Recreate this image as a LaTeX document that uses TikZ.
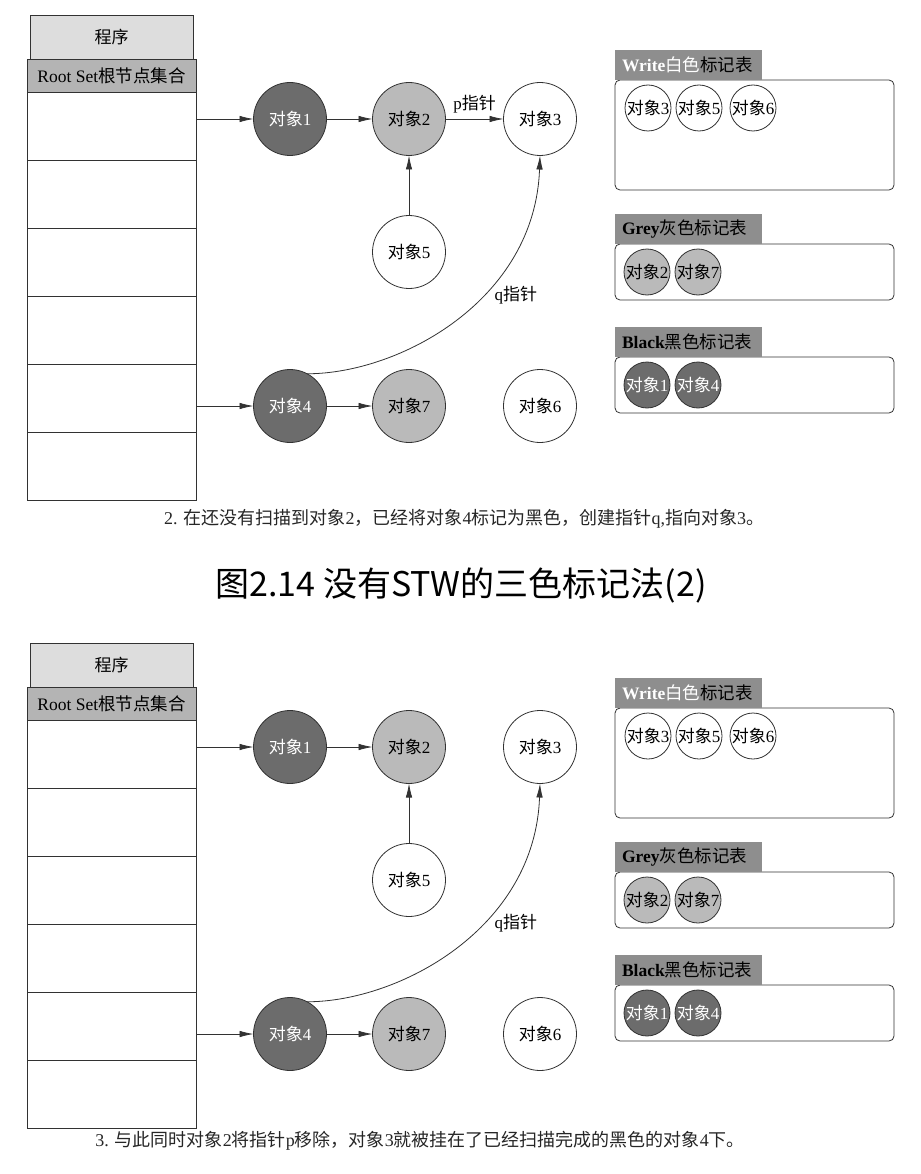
\documentclass[tikz,border=0pt]{standalone}
\usepackage{fontspec}
\setmainfont{Liberation Serif}
\newfontfamily\zhfont{Noto Sans CJK SC}
\newcommand\zh[1]{{\zhfont #1}}
\newcommand\objname[1]{\zh{对象}#1}
\newcommand\minilabel[1]{\makebox[0pt]{\zh{对象}#1}}
\usetikzlibrary{positioning}
\usetikzlibrary{arrows.meta}
\definecolor{progfill}{RGB}{221,221,221}
\definecolor{rootfill}{RGB}{180,180,180}
\definecolor{headfill}{RGB}{142,142,142}
\definecolor{objdark}{RGB}{108,108,108}
\definecolor{objgrey}{RGB}{186,186,186}
\definecolor{linegrey}{RGB}{50,50,50}

\begin{document}
\begin{tikzpicture}[
            x=1pt, y=-1pt,
            every node/.style={outer sep=0pt},
            progbox/.style={rectangle, draw=linegrey, line width=0.8pt, fill=progfill, minimum width=163pt, minimum height=44pt, font=\fontsize{17}{19}\selectfont},
            rootbox/.style={rectangle, draw=linegrey, line width=0.8pt, fill=rootfill, minimum width=169pt, minimum height=33pt, inner xsep=2pt, font=\fontsize{17.5}{19}\selectfont},
            cell/.style={rectangle, draw=linegrey, line width=0.8pt, minimum width=169pt, minimum height=68pt},
            obj/.style={circle, draw=linegrey, line width=0.8pt, minimum size=73pt, inner sep=0pt, font=\fontsize{17}{19}\selectfont},
            darkobj/.style={obj, fill=objdark, text=white},
            greyobj/.style={obj, fill=objgrey},
            whiteobj/.style={obj, fill=white},
            mini/.style={circle, draw=linegrey, line width=0.8pt, minimum size=46pt, inner sep=0pt, font=\fontsize{17}{19}\selectfont},
            tablebox/.style={rectangle, draw=linegrey, line width=0.8pt, rounded corners=5pt, minimum width=279pt},
            tablehead/.style={rectangle, fill=headfill, minimum width=147pt, minimum height=30pt, inner xsep=7pt, text width=133pt, align=left, font=\fontsize{17.5}{19}\selectfont},
            lab/.style={font=\fontsize{17}{19}\selectfont},
            caption/.style={font=\fontsize{18}{20}\selectfont, text=black!85},
            arr/.style={-{Latex[length=14pt,width=6.5pt]}, draw=linegrey, line width=0.8pt},
        ]
        \useasboundingbox (0,0) rectangle (920,1174);

        % Upper panel.
        \begin{scope}[name prefix=up-]
        \node[progbox] (prog) at (111.5,37)       {\zh{程序}};
        \node[rootbox] (root) [below=0pt of prog] {Root Set\zh{根节点集合}};
        \node[cell] (c1) [below=0pt of root] {};
        \node[cell] (c2) [below=0pt of c1]   {};
        \node[cell] (c3) [below=0pt of c2]   {};
        \node[cell] (c4) [below=0pt of c3]   {};
        \node[cell] (c5) [below=0pt of c4]   {};
        \node[cell] (c6) [below=0pt of c5]   {};

        \node[darkobj]  (obj1) at (290,119)           {\objname{1}};
        \node[greyobj]  (obj2) [right=46pt of obj1]   {\objname{2}};
        \node[whiteobj] (obj3) [right=58pt of obj2]   {\objname{3}};
        \node[whiteobj] (obj5) [below=60pt of obj2]   {\objname{5}};
        \node[darkobj]  (obj4) at (290,406)           {\objname{4}};
        \node[greyobj]  (obj7) [right=46pt of obj4]   {\objname{7}};
        \node[whiteobj] (obj6) [right=58pt of obj7]   {\objname{6}};

        \draw[arr] (c1.east |- obj1.west) -- (obj1.west);
        \draw[arr] (c5.east |- obj4.west) -- (obj4.west);
        \draw[arr] (obj1) -- (obj2);
        \draw[arr] (obj2) -- node[lab, above=3pt] {p\zh{指针}} (obj3);
        \draw[arr] (obj5) -- (obj2);
        \draw[arr] (obj4) -- (obj7);
        \draw[arr] (obj4.62) .. controls +(92,0) and +(-5,145) .. node[lab, pos=0.6, right=9pt] {q\zh{指针}} (obj3.south);

        \node[tablebox, minimum height=110pt] (wtab) at (754.5,135) {};
        \node[tablehead] (whead) [above right=0pt and 0pt of wtab.north west] {{\color{white}\textbf{Write}\zh{白色}}\zh{标记表}};
        \node[mini, fill=white] (w3) at ([xshift=33pt,yshift=-28pt]wtab.north west) {\minilabel{3}};
        \node[mini, fill=white] (w5) [right=5pt of w3] {\minilabel{5}};
        \node[mini, fill=white] (w6) [right=8pt of w5] {\minilabel{6}};

        \node[tablebox, minimum height=56pt] (gtab) at (754.5,272) {};
        \node[tablehead] (ghead) [above right=0pt and 0pt of gtab.north west] {\textbf{Grey}\zh{灰色标记表}};
        \node[mini, fill=objgrey] (g2) [right=9pt of gtab.west] {\minilabel{2}};
        \node[mini, fill=objgrey] (g7) [right=5pt of g2]        {\minilabel{7}};

        \node[tablebox, minimum height=56pt] (btab) at (754.5,385) {};
        \node[tablehead] (bhead) [above right=0pt and 0pt of btab.north west] {\textbf{Black}\zh{黑色标记表}};
        \node[mini, fill=objdark, text=white] (b1) [right=9pt of btab.west] {\minilabel{1}};
        \node[mini, fill=objdark, text=white] (b4) [right=5pt of b1]        {\minilabel{4}};

        \node[caption] (cap) at (464,519) {2. \zh{在还没有扫描到对象}2\zh{，已经将对象}4\zh{标记为黑色，创建指针}q,\zh{指向对象}3\zh{。}};
        \end{scope}

        % Title.
        \node[font=\zhfont\fontsize{34}{38}\selectfont] (title) at (461,585) {图2.14 没有STW的三色标记法(2)};

        % Lower panel.
        \begin{scope}[name prefix=lo-]
        \node[progbox] (prog) at (111.5,665)      {\zh{程序}};
        \node[rootbox] (root) [below=0pt of prog] {Root Set\zh{根节点集合}};
        \node[cell] (c1) [below=0pt of root] {};
        \node[cell] (c2) [below=0pt of c1]   {};
        \node[cell] (c3) [below=0pt of c2]   {};
        \node[cell] (c4) [below=0pt of c3]   {};
        \node[cell] (c5) [below=0pt of c4]   {};
        \node[cell] (c6) [below=0pt of c5]   {};

        \node[darkobj]  (obj1) at (290,747)           {\objname{1}};
        \node[greyobj]  (obj2) [right=46pt of obj1]   {\objname{2}};
        \node[whiteobj] (obj3) [right=58pt of obj2]   {\objname{3}};
        \node[whiteobj] (obj5) [below=60pt of obj2]   {\objname{5}};
        \node[darkobj]  (obj4) at (290,1034)          {\objname{4}};
        \node[greyobj]  (obj7) [right=46pt of obj4]   {\objname{7}};
        \node[whiteobj] (obj6) [right=58pt of obj7]   {\objname{6}};

        \draw[arr] (c1.east |- obj1.west) -- (obj1.west);
        \draw[arr] (c5.east |- obj4.west) -- (obj4.west);
        \draw[arr] (obj1) -- (obj2);
        \draw[arr] (obj5) -- (obj2);
        \draw[arr] (obj4) -- (obj7);
        \draw[arr] (obj4.62) .. controls +(92,0) and +(-5,145) .. node[lab, pos=0.6, right=9pt] {q\zh{指针}} (obj3.south);

        \node[tablebox, minimum height=110pt] (wtab) at (754.5,763) {};
        \node[tablehead] (whead) [above right=0pt and 0pt of wtab.north west] {{\color{white}\textbf{Write}\zh{白色}}\zh{标记表}};
        \node[mini, fill=white] (w3) at ([xshift=33pt,yshift=-28pt]wtab.north west) {\minilabel{3}};
        \node[mini, fill=white] (w5) [right=5pt of w3] {\minilabel{5}};
        \node[mini, fill=white] (w6) [right=8pt of w5] {\minilabel{6}};

        \node[tablebox, minimum height=56pt] (gtab) at (754.5,900) {};
        \node[tablehead] (ghead) [above right=0pt and 0pt of gtab.north west] {\textbf{Grey}\zh{灰色标记表}};
        \node[mini, fill=objgrey] (g2) [right=9pt of gtab.west] {\minilabel{2}};
        \node[mini, fill=objgrey] (g7) [right=5pt of g2]        {\minilabel{7}};

        \node[tablebox, minimum height=56pt] (btab) at (754.5,1013) {};
        \node[tablehead] (bhead) [above right=0pt and 0pt of btab.north west] {\textbf{Black}\zh{黑色标记表}};
        \node[mini, fill=objdark, text=white] (b1) [right=9pt of btab.west] {\minilabel{1}};
        \node[mini, fill=objdark, text=white] (b4) [right=5pt of b1]        {\minilabel{4}};

        \node[caption] (cap) at (420,1141) {3. \zh{与此同时对象}2\zh{将指针}p\zh{移除，对象}3\zh{就被挂在了已经扫描完成的黑色的对象}4\zh{下。}};
        \end{scope}
    \end{tikzpicture}
\end{document}
